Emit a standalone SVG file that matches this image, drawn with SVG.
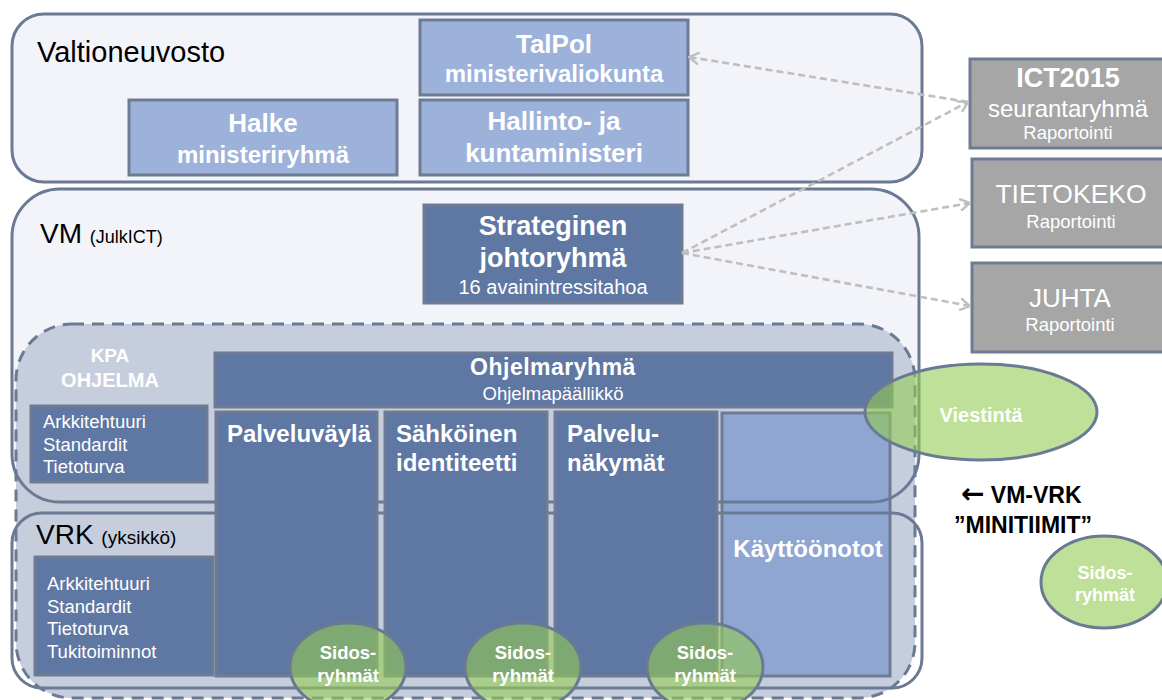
<svg xmlns="http://www.w3.org/2000/svg" width="1162" height="700" viewBox="0 0 1162 700">
<defs>
<style>
text{font-family:"Liberation Sans",Arial,sans-serif;}
.ol{stroke:#6b7a94;stroke-width:3;}
.lite{fill:#9db2db;stroke:#6e7b93;stroke-width:3;}
.dark{fill:#5f77a3;stroke:#6e7b93;stroke-width:3;}
.kay{fill:#8fa6d3;stroke:#6e7b93;stroke-width:3;}
.gray{fill:#a6a6a6;stroke:#6e7b93;stroke-width:3;}
.grn{fill:#94cb53;fill-opacity:0.6;stroke:#6b7a94;stroke-width:3;}
.w{fill:#ffffff;}
.b{font-weight:bold;}
.c{text-anchor:middle;}
.lbl{fill:#000000;}
.arr{stroke:#bfbfbf;stroke-width:2.6;stroke-dasharray:7 4;fill:none;}
</style>
<marker id="chev" viewBox="0 0 12 14" refX="11" refY="7" markerWidth="12" markerHeight="14" markerUnits="userSpaceOnUse" orient="auto">
<path d="M1,1 L11,7 L1,13" fill="none" stroke="#bfbfbf" stroke-width="2.4"/>
</marker>
</defs>

<g id="valtioneuvosto">
<rect x="12" y="14" width="910" height="168" rx="32" fill="#f3f4f9" class="ol"/>
<text x="37" y="62" font-size="29" class="lbl">Valtioneuvosto</text>
</g>

<g id="vm-bg">
<rect x="12" y="189" width="907" height="313" rx="48" fill="#f3f4f9"/>
</g>

<g id="kpa">
<rect x="16" y="324" width="899" height="374" rx="56" fill="#c6cddc" stroke="#6b7a94" stroke-width="3" stroke-dasharray="12 8"/>
<text x="110" y="362" font-size="19" class="w b c">KPA</text>
<text x="110" y="387" font-size="20" class="w b c">OHJELMA</text>
</g>

<g id="kayttoonotot">
<rect x="722" y="413" width="168" height="263" class="kay"/>
</g>

<g id="vm">
<rect x="12" y="189" width="907" height="313" rx="48" fill="none" class="ol"/>
<text x="40" y="243" font-size="28" class="lbl">VM <tspan font-size="18">(JulkICT)</tspan></text>
</g>

<g id="vrk">
<rect x="12" y="513" width="910" height="175" rx="30" fill="none" class="ol"/>
<text x="36" y="544" font-size="28" class="lbl">VRK <tspan font-size="19">(yksikkö)</tspan></text>
</g>

<g id="kayttoonotot-label">
<text x="808" y="557" font-size="24" class="w b c">Käyttöönotot</text>
</g>

<g id="talpol">
<rect x="420" y="20" width="268" height="75" class="lite"/>
<text x="554" y="53" font-size="26" class="w b c">TalPol</text>
<text x="554" y="82" font-size="24" class="w b c">ministerivaliokunta</text>
</g>

<g id="halke">
<rect x="129" y="100" width="268" height="75" class="lite"/>
<text x="263" y="132" font-size="26" class="w b c">Halke</text>
<text x="263" y="163" font-size="24" class="w b c">ministeriryhmä</text>
</g>

<g id="hallinto">
<rect x="420" y="100" width="268" height="75" class="lite"/>
<text x="554" y="130" font-size="26" class="w b c">Hallinto- ja</text>
<text x="554" y="162" font-size="26" class="w b c">kuntaministeri</text>
</g>

<g id="strateginen">
<rect x="424" y="205" width="258" height="98" class="dark"/>
<text x="553" y="235" font-size="27" class="w b c">Strateginen</text>
<text x="553" y="267" font-size="27" class="w b c">johtoryhmä</text>
<text x="553" y="294" font-size="20" class="w c">16 avainintressitahoa</text>
</g>

<g id="kpa-arkkitehtuuri">
<rect x="31" y="406" width="176" height="76" class="dark"/>
<text x="43" y="428" font-size="18.5" class="w">Arkkitehtuuri</text>
<text x="43" y="451" font-size="18.5" class="w">Standardit</text>
<text x="43" y="473" font-size="18.5" class="w">Tietoturva</text>
</g>

<g id="ohjelmaryhma">
<rect x="215" y="353" width="677" height="54" class="dark"/>
<text x="553" y="375" font-size="23" class="w b c" letter-spacing="0.5">Ohjelmaryhmä</text>
<text x="553" y="400" font-size="18.5" class="w c">Ohjelmapäällikkö</text>
</g>

<g id="palveluvayla">
<rect x="216" y="412" width="161" height="264" class="dark"/>
<text x="227" y="442" font-size="24" class="w b">Palveluväylä</text>
</g>

<g id="sahkoinen">
<rect x="385" y="412" width="162" height="264" class="dark"/>
<text x="396" y="442" font-size="24" class="w b">Sähköinen</text>
<text x="396" y="471" font-size="24" class="w b">identiteetti</text>
</g>

<g id="palvelunakymat">
<rect x="555" y="412" width="162" height="264" class="dark"/>
<text x="567" y="442" font-size="24" class="w b">Palvelu-</text>
<text x="567" y="471" font-size="24" class="w b">näkymät</text>
</g>

<g id="vrk-arkkitehtuuri">
<rect x="35" y="557" width="178" height="118" class="dark"/>
<text x="47" y="590" font-size="18.5" class="w">Arkkitehtuuri</text>
<text x="47" y="613" font-size="18.5" class="w">Standardit</text>
<text x="47" y="635" font-size="18.5" class="w">Tietoturva</text>
<text x="47" y="658" font-size="18.5" class="w">Tukitoiminnot</text>
</g>

<g id="ict2015">
<rect x="970" y="59" width="200" height="89" class="gray"/>
<text x="1068" y="87" font-size="27" class="w b c">ICT2015</text>
<text x="1068" y="117" font-size="24" class="w c">seurantaryhmä</text>
<text x="1068" y="139" font-size="18.5" class="w c">Raportointi</text>
</g>

<g id="tietokeko">
<rect x="972" y="159" width="200" height="88" class="gray"/>
<text x="1071" y="203" font-size="26.5" class="w c">TIETOKEKO</text>
<text x="1071" y="228" font-size="18.5" class="w c">Raportointi</text>
</g>

<g id="juhta">
<rect x="972" y="263" width="200" height="89" class="gray"/>
<text x="1070" y="307" font-size="26" class="w c">JUHTA</text>
<text x="1070" y="331" font-size="18.5" class="w c">Raportointi</text>
</g>

<g id="viestinta">
<ellipse cx="981" cy="412" rx="116" ry="48" class="grn"/>
<text x="981" y="422" font-size="20" class="w b c">Viestintä</text>
</g>

<g id="sidos1">
<ellipse cx="348" cy="667" rx="58" ry="44" class="grn"/>
<text x="348" y="659" font-size="18.5" class="w b c">Sidos-</text>
<text x="348" y="682" font-size="18.5" class="w b c">ryhmät</text>
</g>

<g id="sidos2">
<ellipse cx="523" cy="667" rx="58" ry="44" class="grn"/>
<text x="523" y="659" font-size="18.5" class="w b c">Sidos-</text>
<text x="523" y="682" font-size="18.5" class="w b c">ryhmät</text>
</g>

<g id="sidos3">
<ellipse cx="705" cy="667" rx="58" ry="44" class="grn"/>
<text x="705" y="659" font-size="18.5" class="w b c">Sidos-</text>
<text x="705" y="682" font-size="18.5" class="w b c">ryhmät</text>
</g>

<g id="sidos4">
<ellipse cx="1104" cy="582" rx="63" ry="46" class="grn"/>
<text x="1105" y="579" font-size="18" class="w b c">Sidos-</text>
<text x="1105" y="601" font-size="18" class="w b c">ryhmät</text>
</g>

<g id="minitiimit">
<text x="961" y="503" font-size="23" class="lbl b"><tspan font-family="'DejaVu Sans',sans-serif" font-size="28">←</tspan> VM-VRK</text>
<text x="1023" y="533" font-size="23" class="lbl b c">”MINITIIMIT”</text>
</g>

<g id="connectors">
<line x1="968" y1="102" x2="689" y2="57" class="arr" marker-end="url(#chev)"/>
<line x1="682" y1="253" x2="968" y2="102" class="arr" marker-end="url(#chev)"/>
<line x1="682" y1="253" x2="970" y2="203" class="arr" marker-end="url(#chev)"/>
<line x1="682" y1="253" x2="970" y2="306" class="arr" marker-end="url(#chev)"/>
</g>
</svg>
